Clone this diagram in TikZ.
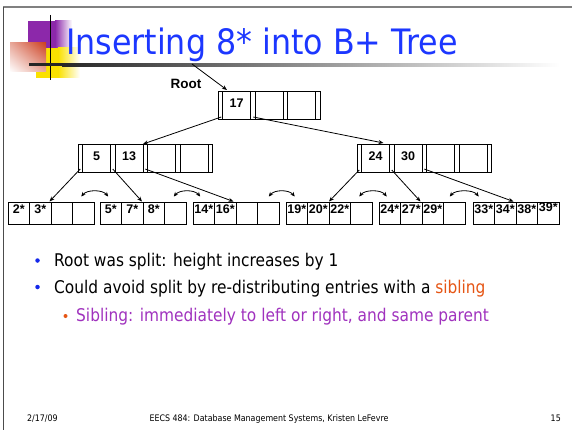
\documentclass[tikz,border=0pt]{standalone}
\usepackage{fontspec}
\setmainfont{Liberation Sans}
\newfontfamily\slidefont[FakeStretch=0.88]{DejaVu Sans}
\newfontfamily\headfont[FakeStretch=0.906]{DejaVu Sans}
\usetikzlibrary{arrows.meta,calc,shadings}
\definecolor{titleblue}{RGB}{28,55,255}
\definecolor{dotblue}{RGB}{20,40,235}
\definecolor{sibred}{RGB}{230,85,20}
\definecolor{sibpurple}{RGB}{160,50,190}
\definecolor{logopurple}{RGB}{140,40,170}
\definecolor{logoyellow}{RGB}{250,225,0}
\definecolor{logored}{RGB}{205,65,35}
\definecolor{framegray}{RGB}{128,128,128}

% one leaf page: name, left x, four entries
\newcommand\leafnode[6]{%
  \node[leafcell] (#1-1) at (#2,202.5) {#3};
  \node[leafcell] (#1-2) at (#2+21.5,202.5) {#4};
  \node[leafcell] (#1-3) at (#2+43,202.5) {#5};
  \node[leafcell] (#1-4) at (#2+64.5,202.5) {#6};
}

\begin{document}
\begin{tikzpicture}[x=1pt,y=-1pt,
  box/.style={draw=black, line width=0.75pt, inner sep=0pt, outer sep=0pt, anchor=north west},
  ptrcell/.style={box, minimum width=4.5pt, minimum height=28pt},
  keycell/.style={box, minimum width=28pt, minimum height=28pt,
    font=\bfseries\fontsize{12.5}{14}\selectfont, text height=9pt, text depth=4pt},
  leafcell/.style={box, minimum width=21.5pt, minimum height=22pt,
    font=\bfseries\fontsize{12.5}{14}\selectfont, text height=9pt, text depth=9pt},
  link/.style={line width=0.8pt, -{Stealth[length=5pt,width=4pt]}},
  sib/.style={line width=0.8pt, {Stealth[length=4.5pt,width=4pt]}-{Stealth[length=4.5pt,width=4pt]}},
  dot/.style={circle, inner sep=0pt, minimum size=4.5pt},
  body/.style={anchor=base west, inner sep=0pt, font=\slidefont\fontsize{17.5}{20}\selectfont},
  foot/.style={inner sep=0pt, font=\slidefont\fontsize{9}{11}\selectfont}]

% page
\fill[white] (0,0) rectangle (572,430);
\useasboundingbox (0,0) rectangle (572,430);
\fill[framegray] (3,5.8) rectangle (572,8.2);
\draw[line width=1pt, black!70] (3.5,7) -- (3.5,430);

% corner emblem
\fill[logopurple] (28,21) rectangle (55,48);
\shade[left color=logopurple, right color=white] (55,21) rectangle (72,48);
\fill[logoyellow] (36,48) rectangle (58,78);
\shade[left color=logoyellow, right color=white] (58,48) rectangle (80,78);
\shade[upper right=logored, lower left=white, upper left=logored!45!white,
       lower right=logored!45!white] (10,43) rectangle (46,72);
\draw[line width=1.5pt] (50.5,15) -- (50.5,80);
\fill[black!85] (29,63.5) rectangle (62,66.5);
\shade[left color=black!85, right color=white] (62,63.5) rectangle (560,66.5);

% title
\node[anchor=base west, inner sep=0pt, text=titleblue,
      font=\headfont\fontsize{35}{38}\selectfont] (title) at (66,55) {Inserting 8* into B+ Tree};

% root
\foreach \i in {0,...,3} \node[ptrcell] (R-p\i) at ({218+32.5*\i},91) {};
\foreach \i/\k in {1/17,2/,3/} \node[keycell] (R-k\i) at ({222.5+32.5*(\i-1)},91) {\k};

% left index node
\foreach \i in {0,...,4} \node[ptrcell] (L-p\i) at ({78+32.5*\i},144) {};
\foreach \i/\k in {1/5,2/13,3/,4/} \node[keycell] (L-k\i) at ({82.5+32.5*(\i-1)},144) {\k};

% right index node
\foreach \i in {0,...,4} \node[ptrcell] (T-p\i) at ({357+32.5*\i},144) {};
\foreach \i/\k in {1/24,2/30,3/,4/} \node[keycell] (T-k\i) at ({361.5+32.5*(\i-1)},144) {\k};

% leaves
\leafnode{A}{8}{2*}{3*}{}{}
\leafnode{B}{100}{5*}{7*}{8*}{}
\leafnode{C}{193}{14*}{16*}{}{}
\leafnode{D}{286}{19*}{20*}{22*}{}
\leafnode{E}{379}{24*}{27*}{29*}{}
\leafnode{F}{473}{33*}{34*}{38*}{\raisebox{2pt}{39*}}

% root label
\node[inner sep=0pt, font=\bfseries\fontsize{13.5}{15}\selectfont] (rootlbl) at (186,83.5) {Root};
\coordinate (rootsrc) at (192,64);
\draw[link] (rootsrc) -- ($(R-k1.north west)+(4.5,-1)$);

% tree pointers
\draw[link] ($(R-p0.south)+(1,-2)$) -- (L-k2.north east);
\draw[link] ($(R-p1.south)+(0.5,-2)$) -- ($(T-k1.north east)+(-6,-1)$);
\draw[link] ($(L-p0.south)+(0,-3)$) -- ($(A-2.north east)+(-1.5,-1)$);
\draw[link] ($(L-p1.south)+(0,-3)$) -- ($(B-2.north east)+(-1,-1)$);
\draw[link] ($(L-p2.south)+(0,-3)$) -- ($(C-2.north east)+(-2.5,-1)$);
\draw[link] ($(T-p0.south)+(0,-2)$) -- ($(D-2.north east)+(0,-1)$);
\draw[link] ($(T-p1.south)+(0,-2)$) -- ($(E-2.north east)+(-1.5,-1)$);
\draw[link] ($(T-p2.south)+(0,-3)$) -- ($(F-2.north east)+(-2.5,-1)$);

% sibling links
\draw[sib] ($(A-4.north)+(-2,-6)$) .. controls +(6,-7) and +(-6,-7) .. ($(B-1.north)+(-2.5,-6)$);
\draw[sib] ($(B-4.north)+(-1.5,-6)$) .. controls +(6,-7) and +(-6,-7) .. ($(C-1.north)+(-3.5,-6)$);
\draw[sib] ($(C-4.north)+(0.5,-6)$) .. controls +(6,-7) and +(-6,-7) .. ($(D-1.north)+(-2,-6)$);
\draw[sib] ($(D-4.north)+(-2,-6)$) .. controls +(6,-7) and +(-6,-7) .. ($(E-1.north)+(-3,-6)$);
\draw[sib] ($(E-4.north)+(-4.5,-6)$) .. controls +(6,-7) and +(-6,-7) .. ($(F-1.north)+(-5,-6)$);

% bullets
\node[dot, fill=dotblue] (d1) at (37.5,260.5) {};
\node[body] (t1) at (54,266.7) {Root was split: height increases by 1};
\node[dot, fill=dotblue] (d2) at (37.5,287) {};
\node[body] (t2) at (54,293.3) {Could avoid split by re-distributing entries with a \textcolor{sibred}{sibling}};
\node[dot, fill=sibred, minimum size=4pt] (d3) at (65.5,316) {};
\node[body, text=sibpurple] (t3) at (76,321.7)
  {Sibling: immediately to left or right, and same parent};

% footer
\node[foot, anchor=base west] (date) at (27,421) {2/17/09};
\node[foot, anchor=base] (course) at (269,421) {EECS 484: Database Management Systems, Kristen LeFevre};
\node[foot, anchor=base east] (page) at (561,421) {15};
\end{tikzpicture}
\end{document}
